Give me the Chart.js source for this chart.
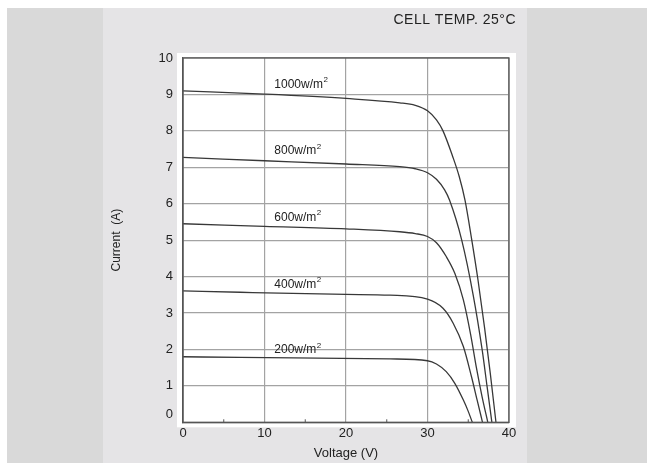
<!DOCTYPE html>
<html>
<head>
<meta charset="utf-8">
<script src="https://cdn.jsdelivr.net/npm/chart.js@4/dist/chart.umd.min.js"></script>
<style>
  html, body { margin: 0; padding: 0; background: #fff; }
  body { width: 647px; height: 463px; position: relative; overflow: hidden; }
  .outer { position: absolute; left: 7px; top: 8px; right: 0; bottom: 0; background: #d9d9d9; }
  .panel { position: absolute; left: 103px; top: 8px; width: 424px; bottom: 0; background: #e5e4e6; }
  canvas { position: absolute; left: 0; top: 0; }
</style>
</head>
<body>
<div class="outer"></div>
<div class="panel"></div>
<canvas id="ivChart" width="647" height="463"></canvas>
<script>
// --- data (voltage V, current A) ---
const irradiance = [1000, 800, 600, 400, 200];

const v1000 = [0, 10, 20, 26.6, 28.5, 30, 31.1, 31.9, 33.1, 33.9, 34.6, 35.4, 36.2, 37.0, 37.7, 38.4];
const i1000 = [9.10, 9.01, 8.89, 8.77, 8.70, 8.55, 8.30, 8.00, 7.29, 6.74, 6.10, 5.05, 3.90, 2.60, 1.35, 0];

const v800 = [0, 10, 20, 26.6, 28.5, 30, 31.1, 32.1, 32.7, 34.2, 35.6, 36.7, 37.3, 37.9];
const i800 = [7.27, 7.18, 7.09, 7.02, 6.96, 6.85, 6.67, 6.38, 6.10, 5.00, 3.50, 2.00, 1.00, 0];

const v600 = [0, 10, 20, 26.6, 28.5, 30, 31.1, 32.3, 33.35, 34.4, 35.3, 36.0, 36.7, 37.4];
const i600 = [5.45, 5.38, 5.31, 5.23, 5.18, 5.10, 4.93, 4.55, 4.09, 3.36, 2.40, 1.50, 0.70, 0];

const v400 = [0, 7, 20, 25.4, 30, 31.9, 33.15, 34.4, 35.4, 36.1, 36.75];
const i400 = [3.61, 3.57, 3.51, 3.49, 3.38, 3.13, 2.72, 2.08, 1.25, 0.60, 0];

const v200 = [0, 7, 25.4, 30, 31.1, 32.3, 33.35, 34.4, 35.0, 35.5];
const i200 = [1.80, 1.78, 1.74, 1.69, 1.60, 1.39, 1.07, 0.61, 0.30, 0];

const xTicks = [0, 10, 20, 30, 40];
const xMinorTicks = [5, 15, 25, 35];

const curves = [[v1000, i1000], [v800, i800], [v600, i600], [v400, i400], [v200, i200]];

const FONT = '"Liberation Sans", Arial, sans-serif';
const INK = '#222';

// white plot card, frame, minor ticks, curve labels and the corner note
const decorations = {
  id: 'decorations',
  beforeDraw(chart) {
    const { ctx, chartArea: a } = chart;
    ctx.save();
    ctx.fillStyle = '#fff';
    ctx.fillRect(a.left - 6, a.top - 5, a.right - a.left + 13, a.bottom - a.top + 10);
    ctx.restore();
  },
  afterDraw(chart) {
    const { ctx, chartArea: a, scales } = chart;
    ctx.save();
    ctx.strokeStyle = '#555';
    ctx.lineWidth = 1.3;
    ctx.strokeRect(a.left, a.top, a.right - a.left, a.bottom - a.top);

    // small inward ticks on the voltage axis
    ctx.lineWidth = 1;
    xMinorTicks.forEach(v => {
      const x = scales.x.getPixelForValue(v);
      ctx.beginPath();
      ctx.moveTo(x, a.bottom);
      ctx.lineTo(x, a.bottom - 3);
      ctx.stroke();
    });

    // the "0" current label sits a little above its line in the original
    ctx.fillStyle = INK;
    ctx.font = '13px ' + FONT;
    ctx.textAlign = 'right';
    ctx.textBaseline = 'middle';
    ctx.fillText('0', a.left - 10, scales.y.getPixelForValue(0) - 8);

    // irradiance labels just above the start of each curve
    ctx.textAlign = 'left';
    irradiance.forEach((g, k) => {
      const x = scales.x.getPixelForValue(11.2);
      const y = scales.y.getPixelForValue(curves[k][1][0] + 0.18);
      const main = g + 'w/m';
      ctx.font = '12px ' + FONT;
      ctx.fillText(main, x, y);
      const w = ctx.measureText(main).width;
      ctx.font = '8px ' + FONT;
      ctx.fillText('2', x + w + 0.5, y - 4.5);
    });

    ctx.font = '14px ' + FONT;
    ctx.textAlign = 'right';
    ctx.letterSpacing = '0.5px';
    ctx.fillText('CELL TEMP. 25°C', 516, 20);
    ctx.restore();
  }
};

const ctxIV = document.getElementById('ivChart').getContext('2d');
new Chart(ctxIV, {
  type: 'line',
  data: {
    datasets: curves.map(([vs, is], k) => ({
      label: irradiance[k] + ' w/m2',
      data: vs.map((v, j) => ({ x: v, y: is[j] })),
      borderColor: '#383838',
      borderWidth: 1.3,
      pointRadius: 0,
      fill: false,
      cubicInterpolationMode: 'monotone'
    }))
  },
  options: {
    responsive: false,
    animation: false,
    layout: { padding: { left: 105, right: 138, top: 58, bottom: 0 } },
    plugins: { legend: { display: false }, tooltip: { enabled: false } },
    scales: {
      x: {
        type: 'linear',
        min: 0,
        max: 40,
        afterBuildTicks: s => { s.ticks = xTicks.map(v => ({ value: v })); },
        afterFit: s => { s.height = 40.7; },
        grid: { color: '#a3a3a3', lineWidth: 1.2, drawTicks: false },
        border: { display: true, color: '#555', width: 1.3 },
        ticks: { padding: 3, color: INK, font: { family: FONT, size: 13 } },
        title: {
          display: true,
          text: 'Voltage (V)',
          color: INK,
          font: { family: FONT, size: 13 },
          padding: { top: 0, bottom: 2 }
        }
      },
      y: {
        type: 'linear',
        min: 0,
        max: 10,
        afterFit: s => { s.width = 78; },
        grid: { color: '#a3a3a3', lineWidth: 1.2, drawTicks: false },
        border: { display: true, color: '#555', width: 1.3 },
        ticks: {
          stepSize: 1,
          padding: 10,
          color: INK,
          font: { family: FONT, size: 13 },
          callback: v => (v === 0 ? '' : v)
        },
        title: {
          display: true,
          text: 'Current  (A)',
          color: INK,
          font: { family: FONT, size: 12 },
          padding: 4
        }
      }
    }
  },
  plugins: [decorations]
});
</script>
</body>
</html>
